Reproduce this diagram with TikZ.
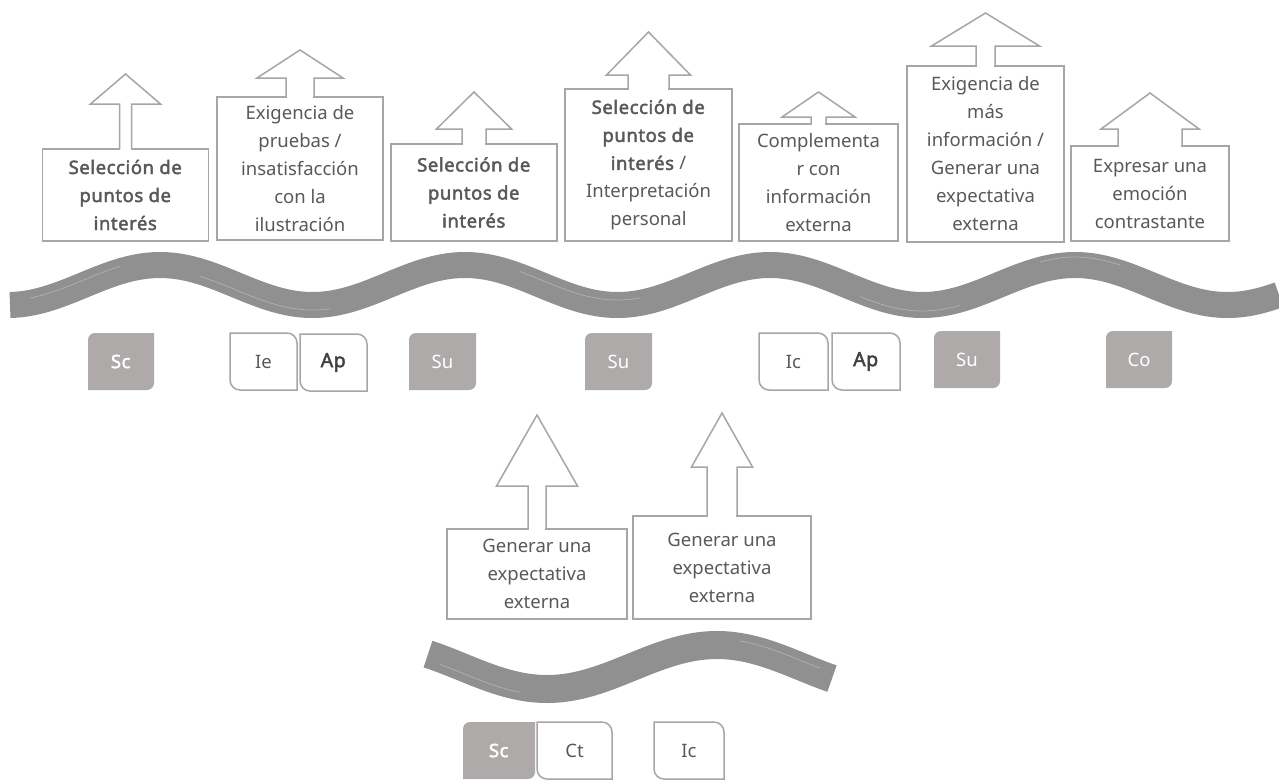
\documentclass[tikz,border=0pt]{standalone}
\usepackage{fontspec}
\setmainfont{Noto Sans}[BoldFont={Noto Sans}, BoldFeatures={FakeBold=2.2, LetterSpace=3}]
\definecolor{boxgray}{HTML}{A6A6A6}
\definecolor{txtgray}{HTML}{595959}
\definecolor{tagfill}{HTML}{AEAAAA}
\definecolor{wavegray}{HTML}{909090}
\definecolor{boldgray}{HTML}{404040}

% up-arrow rising out of the top edge of a box:
% #1 centre x, #2 box top y, #3 stem half width, #4 head half width, #5 head base y, #6 apex y
\newcommand\uparrowhead[6]{%
  \fill[white] ({#1-#3+0.8},{#2-1.5}) rectangle ({#1+#3-0.8},{#2+1.5});
  \draw[outline] ({#1-#3},#2) -- ({#1-#3},#5) -- ({#1-#4},#5) -- (#1,#6)
    -- ({#1+#4},#5) -- ({#1+#3},#5) -- ({#1+#3},#2);
}
% filled tag, rounded top-left and bottom-right: #1 name, #2 x1, #3 y1, #4 x2, #5 y2, #6 label
\newcommand\graytag[6]{%
  \fill[tagfill] (#2,#5) -- (#2,{#3+7}) .. controls (#2,{#3+3.1}) and ({#2+3.1},#3) .. ({#2+7},#3)
    -- (#4,#3) -- (#4,{#5-7}) .. controls (#4,{#5-3.1}) and ({#4-3.1},#5) .. ({#4-7},#5) -- cycle;
  \node[tagtext, text=white] (#1) at ({(#2+#4)/2},{(#3+#5)/2}) {#6};
}
% outlined tag, rounded top-right and bottom-left
\newcommand\whitetag[6]{%
  \draw[outline, fill=white] (#2,#3) -- ({#4-10},#3) .. controls ({#4-4.5},#3) and (#4,{#3+4.5}) .. (#4,{#3+10})
    -- (#4,#5) -- ({#2+10},#5) .. controls ({#2+4.5},#5) and (#2,{#5-4.5}) .. (#2,{#5-10}) -- cycle;
  \node[tagtext, text=txtgray] (#1) at ({(#2+#4)/2},{(#3+#5)/2}) {#6};
}

\begin{document}
\begin{tikzpicture}[x=1pt, y=-1pt,
  outline/.style={draw=boxgray, line width=1.5pt, line join=miter},
  textbox/.style={draw=boxgray, line width=1.5pt, fill=white, inner sep=0pt, align=center,
    text=txtgray, font=\fontsize{18.5}{28}\selectfont},
  tagtext/.style={inner sep=0pt, font=\fontsize{18.5}{22}\selectfont},
  wave/.style={draw=wavegray, line width=26pt},
  streak/.style={draw=white, opacity=0.3, line width=0.7pt}]

\fill[white] (0,0) rectangle (1279,780);
\useasboundingbox (0,0) rectangle (1279,780);
\clip (0,0) rectangle (1279,780);

% brush-stroke waves (phase factors: 360/305 and 360/340 degrees per unit)
\draw[wave] plot[domain=10:1279, samples=260, smooth] (\x,{285-20*cos((\x-160)*1.18033)});
\draw[streak] plot[domain=200:330, samples=40, smooth] (\x,{290-20*cos((\x-160)*1.18033)});
\draw[streak] plot[domain=520:640, samples=40, smooth] (\x,{280-20*cos((\x-160)*1.18033)});
\draw[streak] plot[domain=860:960, samples=40, smooth] (\x,{291-20*cos((\x-160)*1.18033)});
\draw[streak] plot[domain=1040:1120, samples=40, smooth] (\x,{277-20*cos((\x-160)*1.18033)});
\draw[streak] plot[domain=30:120, samples=40, smooth] (\x,{280-20*cos((\x-160)*1.18033)});

\draw[wave, line width=28pt] plot[domain=428:832, samples=120, smooth] (\x,{667+22*cos((\x-547)*1.05882)});
\draw[streak] plot[domain=440:520, samples=40, smooth] (\x,{673+22*cos((\x-547)*1.05882)});
\draw[streak] plot[domain=740:820, samples=40, smooth] (\x,{661+22*cos((\x-547)*1.05882)});

% upper row of boxes
\node[textbox, minimum width=166pt, minimum height=92pt] (b1) at (125.5,195)
  {\textbf{Selección de}\\\textbf{puntos de}\\\textbf{interés}};
\uparrowhead{125.5}{149}{6}{35}{104}{74}

\node[textbox, minimum width=166pt, minimum height=143pt] (b2) at (300,168.5)
  {Exigencia de\\pruebas /\\insatisfacción\\con la\\ilustración};
\uparrowhead{300}{97}{14}{43}{78}{50}

\node[textbox, minimum width=166pt, minimum height=97pt] (b3) at (474,192.5)
  {\textbf{Selección de}\\\textbf{puntos de}\\\textbf{interés}};
\uparrowhead{474}{144}{12}{37.5}{129}{92}

\node[textbox, minimum width=167pt, minimum height=152pt] (b4) at (648.5,165)
  {\textbf{Selección de}\\\textbf{puntos de}\\\textbf{interés} /\\Interpretación\\personal};
\uparrowhead{648.5}{89}{20.5}{42}{75}{32}

\node[textbox, minimum width=159pt, minimum height=117pt] (b5) at (818.5,182.5)
  {Complementa\\r con\\información\\externa};
\uparrowhead{818.5}{124}{7.5}{36.5}{117}{92}

\node[textbox, minimum width=157pt, minimum height=176pt] (b6) at (985.5,154)
  {Exigencia de\\más\\información /\\Generar una\\expectativa\\externa};
\uparrowhead{985.5}{66}{9.5}{54}{46}{13}

\node[textbox, minimum width=158pt, minimum height=95pt] (b7) at (1150,193.5)
  {Expresar una\\emoción\\contrastante};
\uparrowhead{1150}{146}{32}{49}{129}{93}

% lower boxes
\node[textbox, minimum width=180pt, minimum height=90pt] (c1) at (537,574)
  {Generar una\\expectativa\\externa};
\uparrowhead{537}{529}{9}{40.5}{486}{415}

\node[textbox, minimum width=178pt, minimum height=103pt] (c2) at (722,567.5)
  {Generar una\\expectativa\\externa};
\uparrowhead{722}{516}{15}{30.5}{467}{413}

% category tags, upper row
\graytag{sc1}{88}{333}{154}{390}{\textbf{Sc}}
\whitetag{ie1}{230}{333}{297}{390}{Ie}
\whitetag{ap1}{300}{334}{367}{391}{\textcolor{boldgray}{\fontsize{19.5}{22}\selectfont\textbf{Ap}}}
\graytag{su1}{409}{333}{476}{390}{Su}
\graytag{su2}{585}{333}{652}{390}{Su}
\whitetag{ic1}{759}{333}{828}{390}{Ic}
\whitetag{ap2}{832}{333}{900}{390}{\textcolor{boldgray}{\fontsize{19.5}{22}\selectfont\textbf{Ap}}}
\graytag{su3}{934}{331}{1000}{388}{Su}
\graytag{co1}{1106}{331}{1172}{388}{Co}

% category tags, lower row
\graytag{sc2}{463}{722}{535}{779}{\textbf{Sc}}
\whitetag{ct1}{537}{722}{612}{779}{Ct}
\whitetag{ic2}{654}{722}{724}{779}{Ic}

\end{tikzpicture}
\end{document}
